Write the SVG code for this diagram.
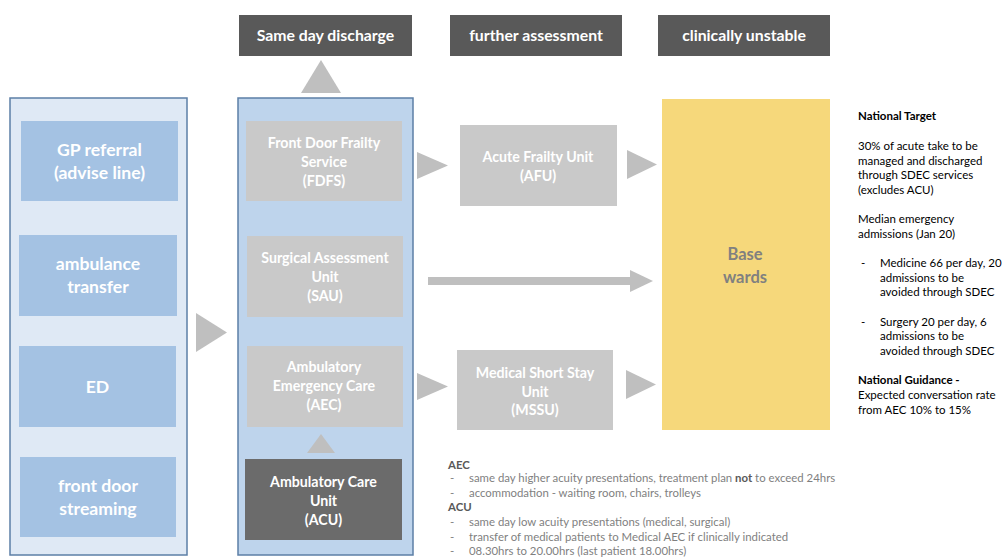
<svg xmlns="http://www.w3.org/2000/svg" width="1002" height="559" viewBox="0 0 1002 559">
<style>
text{font-family:Lato,"Open Sans",sans-serif}
.hdr{fill:#595959}
.hdrt{fill:#fff;font-weight:bold;font-size:15.8px;text-anchor:middle}
.src{fill:#a4c2e3}
.srct{fill:#fff;font-weight:bold;font-size:17.6px;text-anchor:middle}
.unit{fill:#c9c9c9}
.unitt{fill:#fff;font-weight:bold;font-size:14.2px;text-anchor:middle}
.tri{fill:#bfbfbf}
.note{fill:#7f7f7f;font-size:11.4px}
.noteb{fill:#595959;font-weight:bold}
.side{fill:#000;font-size:11.5px}
.sideb{font-weight:bold}
</style>
<rect width="1002" height="559" fill="#fff"/>

<g id="hdr-same-day">
<rect class="hdr" x="239" y="15" width="173" height="41"/>
<text class="hdrt" x="325.5" y="41">Same day discharge</text>
</g>
<g id="hdr-further">
<rect class="hdr" x="450" y="15" width="172" height="41"/>
<text class="hdrt" x="536" y="41">further assessment</text>
</g>
<g id="hdr-unstable">
<rect class="hdr" x="658" y="15" width="172" height="41"/>
<text class="hdrt" x="744" y="41">clinically unstable</text>
</g>

<g id="sources">
<rect x="10" y="98" width="177" height="457" fill="#dfe9f5" stroke="#5c7fa6" stroke-width="1.5"/>
<g id="gp">
<rect class="src" x="21" y="121" width="157" height="80"/>
<text class="srct" x="99.5" y="156">GP referral</text>
<text class="srct" x="99.5" y="179">(advise line)</text>
</g>
<g id="ambulance">
<rect class="src" x="19" y="235" width="158" height="81"/>
<text class="srct" x="98" y="270">ambulance</text>
<text class="srct" x="98" y="293">transfer</text>
</g>
<g id="ed">
<rect class="src" x="19" y="346" width="157" height="81"/>
<text class="srct" x="97.5" y="393">ED</text>
</g>
<g id="streaming">
<rect class="src" x="20" y="457" width="156" height="80"/>
<text class="srct" x="98" y="492">front door</text>
<text class="srct" x="98" y="515">streaming</text>
</g>
</g>

<g id="sdec">
<rect x="238" y="98" width="175" height="457" fill="#bed4ec" stroke="#5c7fa6" stroke-width="1.5"/>
<g id="fdfs">
<rect class="unit" x="246" y="121" width="156" height="80"/>
<text class="unitt" x="324" y="148">Front Door Frailty</text>
<text class="unitt" x="324" y="166.5">Service</text>
<text class="unitt" x="324" y="185.5">(FDFS)</text>
</g>
<g id="sau">
<rect class="unit" x="247" y="236" width="156" height="81"/>
<text class="unitt" x="325" y="263">Surgical Assessment</text>
<text class="unitt" x="325" y="282">Unit</text>
<text class="unitt" x="325" y="301">(SAU)</text>
</g>
<g id="aec">
<rect class="unit" x="247" y="346" width="156" height="81"/>
<text class="unitt" x="324" y="372">Ambulatory</text>
<text class="unitt" x="324" y="391">Emergency Care</text>
<text class="unitt" x="324" y="410">(AEC)</text>
</g>
<g id="acu">
<rect x="245" y="459" width="157" height="81" fill="#6b6b6b"/>
<text class="unitt" x="323.5" y="487">Ambulatory Care</text>
<text class="unitt" x="323.5" y="505.5">Unit</text>
<text class="unitt" x="323.5" y="524.5">(ACU)</text>
</g>
</g>

<g id="afu">
<rect class="unit" x="460" y="125" width="157" height="81"/>
<text class="unitt" x="538" y="162">Acute Frailty Unit</text>
<text class="unitt" x="538" y="180.5">(AFU)</text>
</g>
<g id="mssu">
<rect class="unit" x="457" y="350" width="156" height="80"/>
<text class="unitt" x="535" y="378">Medical Short Stay</text>
<text class="unitt" x="535" y="396.5">Unit</text>
<text class="unitt" x="535" y="415">(MSSU)</text>
</g>
<g id="base">
<rect x="662" y="99" width="168" height="331" fill="#f6d87b"/>
<text x="745" y="260" fill="#808080" font-weight="bold" font-size="16.5" text-anchor="middle">Base</text>
<text x="745" y="283" fill="#808080" font-weight="bold" font-size="16.5" text-anchor="middle">wards</text>
</g>

<g id="connectors">
<polygon class="tri" points="301,93 341,93 321,60"/>
<polygon class="tri" points="196,313 227,332.5 196,352"/>
<polygon class="tri" points="307,453 335,453 321,434"/>
<polygon class="tri" points="417,152 448,165.5 417,179"/>
<polygon class="tri" points="627,150 657,164.5 627,179"/>
<polygon class="tri" points="417,373 448,386.5 417,400"/>
<polygon class="tri" points="626,370 656,384.5 626,399"/>
<rect class="tri" x="428" y="277" width="203" height="8"/>
<polygon class="tri" points="630,270 653,281 630,292"/>
</g>

<g id="notes">
<text class="note noteb" x="448" y="469">AEC</text>
<text class="note" x="450" y="482">-</text>
<text class="note" x="469" y="482">same day higher acuity presentations, treatment plan <tspan class="noteb">not</tspan> to exceed 24hrs</text>
<text class="note" x="450" y="497">-</text>
<text class="note" x="469" y="497">accommodation - waiting room, chairs, trolleys</text>
<text class="note noteb" x="448" y="511">ACU</text>
<text class="note" x="450" y="526">-</text>
<text class="note" x="469" y="526">same day low acuity presentations (medical, surgical)</text>
<text class="note" x="450" y="541">-</text>
<text class="note" x="469" y="541">transfer of medical patients to Medical AEC if clinically indicated</text>
<text class="note" x="450" y="555">-</text>
<text class="note" x="469" y="555">08.30hrs to 20.00hrs (last patient 18.00hrs)</text>
</g>

<g id="targets">
<text class="side sideb" x="858" y="120">National Target</text>
<text class="side" x="858" y="150">30% of acute take to be</text>
<text class="side" x="858" y="164.5">managed and discharged</text>
<text class="side" x="858" y="179">through SDEC services</text>
<text class="side" x="858" y="194">(excludes ACU)</text>
<text class="side" x="858" y="223">Median emergency</text>
<text class="side" x="858" y="238">admissions (Jan 20)</text>
<text class="side" x="861" y="267">-</text>
<text class="side" x="880" y="267">Medicine 66 per day, 20</text>
<text class="side" x="880" y="282">admissions to be</text>
<text class="side" x="880" y="296">avoided through SDEC</text>
<text class="side" x="861" y="326">-</text>
<text class="side" x="880" y="326">Surgery 20 per day, 6</text>
<text class="side" x="880" y="340">admissions to be</text>
<text class="side" x="880" y="355">avoided through SDEC</text>
<text class="side sideb" x="858" y="384">National Guidance -</text>
<text class="side" x="858" y="399">Expected conversation rate</text>
<text class="side" x="858" y="414">from AEC 10% to 15%</text>
</g>
</svg>
